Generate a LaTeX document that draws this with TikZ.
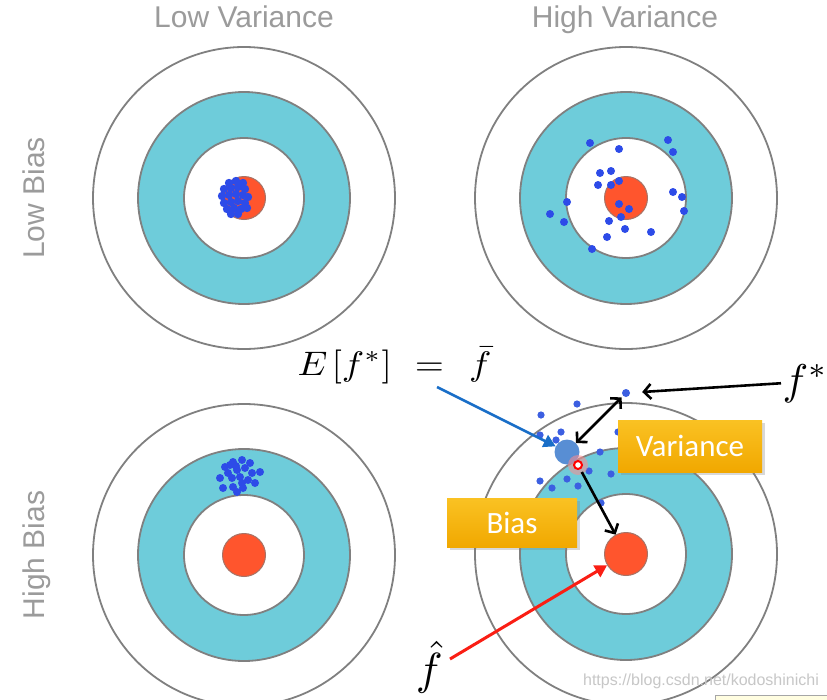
\documentclass[tikz,border=0pt]{standalone}
\usepackage[no-math]{fontspec}
\setmainfont{Liberation Sans}
\newfontfamily\calib{Carlito}
\usetikzlibrary{arrows.meta,shadows}
\definecolor{ringteal}{RGB}{110,204,218}
\definecolor{ringgray}{RGB}{128,128,128}
\definecolor{bullred}{RGB}{255,85,45}
\definecolor{dotblue}{RGB}{45,75,232}
\definecolor{clublue}{RGB}{60,95,225}
\definecolor{labgray}{RGB}{155,155,155}
\definecolor{meanblue}{RGB}{88,142,212}
\definecolor{arrblue}{RGB}{25,110,200}
\definecolor{arrred}{RGB}{250,30,20}
\definecolor{boxtop}{RGB}{250,194,35}
\definecolor{boxbot}{RGB}{241,168,0}
\tikzset{
  ring/.style={draw=ringgray, line width=1.8pt},
  bull/.style={circle, inner sep=0pt, minimum size=43pt, fill=bullred, draw=ringgray!70!bullred, line width=1pt},
  hdr/.style={font=\fontsize{30}{32}\selectfont, text=labgray, inner sep=0pt},
  boxlab/.style={rectangle, inner sep=0pt, top color=boxtop, bottom color=boxbot, draw=none,
     text=white, font=\calib\fontsize{31}{31}\selectfont,
     drop shadow={shadow xshift=2.5pt, shadow yshift=-2.5pt, opacity=0.3}},
  blk/.style={line width=2.6pt, black},
  barb/.style={-{Straight Barb[length=7pt,width=15pt]}},
  tri/.style={-{Triangle[length=12pt,width=13pt]}},
  mathlab/.style={inner sep=0.2pt, transform shape}
}
\begin{document}
\begin{tikzpicture}[x=1pt,y=-1pt]
\useasboundingbox (0,0) rectangle (827,699);
\fill[white] (0,0) rectangle (827,699);

% targets
\foreach \cx/\cy/\nm in {244/198/TL, 626/198/TR, 244/555/BL, 626/554/BR} {
  \fill[white] (\cx,\cy) circle (151pt);
  \draw[ring] (\cx,\cy) circle (151pt);
  \filldraw[ring, fill=ringteal] (\cx,\cy) circle (106pt);
  \filldraw[ring, fill=white] (\cx,\cy) circle (60pt);
  \node[bull] (bull\nm) at (\cx,\cy) {};
}

% headers
\node[hdr, anchor=base] (lv) at (244,27) {Low Variance};
\node[hdr, anchor=base] (hv) at (625,27) {High Variance};
\node[hdr, anchor=base, rotate=90] (lb) at (44,198) {Low Bias};
\node[hdr, anchor=base, rotate=90] (hb) at (44,555) {High Bias};

% low bias, low variance cluster
\foreach \p in {(229,183),(236,181),(243,183),(224,189),(231,188),(238,187),(245,189),
  (222,196),(229,195),(236,194),(243,195),(248,197),(224,203),(231,202),(238,201),
  (245,203),(227,209),(234,208),(241,209),(231,214),(238,214),(247,208)}
  \fill[dotblue] \p circle (4.2pt);

% low bias, high variance
\foreach \p in {(590,143),(619,149),(668,140),(673,152),(600,173),(611,171),(598,185),
  (611,185),(619,181),(673,192),(682,197),(684,211),(567,202),(550,214),(564,222),
  (619,204),(629,209),(621,217),(609,221),(625,229),(651,232),(607,237),(592,249)}
  \fill[dotblue] \p circle (4pt);

% high bias, low variance cluster
\foreach \p in {(225,467),(233,462),(242,460),(250,463),(228,473),(237,470),(245,468),
  (252,473),(260,472),(220,478),(232,478),(240,477),(248,480),(255,483),(223,488),
  (233,487),(243,488),(237,492),(242,483),(230,465),(236,466)}
  \fill[dotblue] \p circle (4pt);

% explanation target: predictions
\foreach \p in {(577,404),(541,415),(540,435),(561,432),(556,440),(600,452),(611,474),
  (540,481),(552,488),(567,479),(578,486),(589,471),(601,503),(618,432)}
  \fill[clublue] \p circle (3.6pt);
\node[circle, inner sep=0pt, minimum size=8pt, fill=clublue] (fs) at (626,393) {};
\node[circle, inner sep=0pt, minimum size=25pt, fill=meanblue] (mean) at (567,452) {};
\fill[red!45, opacity=0.55] (578,465) circle (10pt);
\node[circle, inner sep=0pt, minimum size=8pt, fill=white, draw=red, line width=2pt] (redr) at (578,465) {};

% boxes
\node[boxlab, minimum width=144pt, minimum height=52pt] (var) at (690,446) {Variance};
\node[boxlab, minimum width=130pt, minimum height=49pt] (bias) at (512,522.5) {Bias};

% math labels
\node[mathlab, xscale=3.75, yscale=3.4, anchor=base west] (ef) at (296,375)
  {$E\mkern2mu[f^{*}]\mkern6mu=\mkern7mu\bar{f}$};
\node[mathlab, scale=4.3, anchor=base west] (fstar) at (781,394) {$f^{*}$};
\node[mathlab, scale=4.5, anchor=base west] (fhat) at (414,684) {$\hat{f}$};
\coordinate (bst) at (437,387);
\coordinate (rst) at (450,659);

% arrows
\draw[line width=2.6pt, arrblue, tri] (bst) -- (mean);
\draw[blk, barb, shorten >=12pt] (fstar.west) -- (fs);
\draw[blk, {Straight Barb[length=7pt,width=15pt]}-{Straight Barb[length=7pt,width=15pt]}, shorten <=2pt] (fs) -- (mean);
\draw[blk, barb, shorten <=3pt] (redr) -- (bullBR);
\draw[line width=3pt, arrred, tri] (rst) -- (bullBR);

% artefacts
\node[font=\fontsize{16}{16}\selectfont, text=black!22, inner sep=0pt] (wm) at (701,681) {https://blog.csdn.net/kodoshinichi};
\filldraw[fill=yellow!12, draw=black!35, line width=0.8pt] (715,695) rectangle (830,704);
\end{tikzpicture}
\end{document}
